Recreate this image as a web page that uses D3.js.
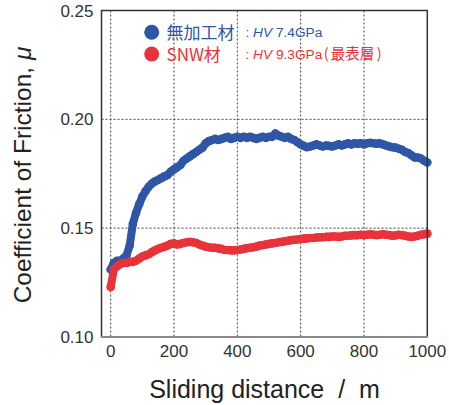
<!DOCTYPE html>
<html><head><meta charset="utf-8">
<script src="https://cdn.jsdelivr.net/npm/d3@7"></script>
<style>
html,body{margin:0;padding:0;background:#fff;}
svg{display:block;font-family:"Liberation Sans",Arial,sans-serif;}
</style></head>
<body><svg id="c" width="449" height="405"></svg>
<script>
const distances = d3.range(0, 1001, 10);
const blueValues = [0.131,0.134,0.135,0.135,0.136,0.1375,0.142,0.152,0.157,0.161,
0.1645,0.167,0.1690,0.1705,0.1715,0.1722,0.173,0.1738,0.1745,0.176,
0.177,0.178,0.179,0.181,0.182,0.183,0.184,0.185,0.186,0.187,
0.189,0.190,0.1905,0.191,0.1905,0.191,0.1915,0.192,0.191,0.1915,
0.192,0.1915,0.192,0.1915,0.192,0.1915,0.191,0.1915,0.192,0.1915,
0.192,0.192,0.1935,0.1925,0.192,0.1915,0.192,0.191,0.1905,0.1895,
0.1885,0.1878,0.1872,0.1875,0.188,0.1885,0.188,0.1875,0.188,0.1878,
0.1875,0.188,0.1885,0.188,0.1885,0.189,0.1885,0.189,0.1888,0.189,
0.1885,0.189,0.1892,0.189,0.1888,0.189,0.1885,0.188,0.1875,0.1872,
0.187,0.1865,0.186,0.185,0.1845,0.1835,0.1825,0.1825,0.182,0.181,0.1802];
const redValues = [0.123,0.131,0.1325,0.1335,0.134,0.134,0.1345,0.1345,0.135,0.136,
0.137,0.1375,0.138,0.139,0.1398,0.1405,0.141,0.1415,0.142,0.1428,
0.143,0.1425,0.1428,0.1432,0.1435,0.1437,0.1435,0.1432,0.1425,0.142,
0.1415,0.1412,0.141,0.141,0.1407,0.1405,0.140,0.140,0.1398,0.1398,
0.140,0.1402,0.1405,0.1408,0.141,0.1412,0.1415,0.142,0.1422,0.1425,
0.1428,0.143,0.1432,0.1435,0.1437,0.144,0.1442,0.1445,0.1447,0.1448,
0.145,0.1452,0.1453,0.1455,0.1455,0.1457,0.1458,0.1458,0.146,0.146,
0.1462,0.1462,0.146,0.1462,0.1465,0.1465,0.1467,0.1468,0.1468,0.147,
0.1468,0.147,0.1472,0.147,0.1468,0.147,0.1472,0.147,0.1468,0.1465,
0.1467,0.147,0.1468,0.1465,0.1462,0.146,0.1462,0.1465,0.147,0.1472,0.1475];
const xTicks = [0,200,400,600,800,1000];
const yTicks = [0.10,0.15,0.20,0.25];
const xGrid = [0,200,400,600,800];
const yGrid = [0.15,0.20];
const seriesNames = ["無加工材","SNW材"];
const seriesNotes = ["7.4GPa","9.3GPa"];

const BLUE="#2f56a6", RED="#e8333b";
const svg = d3.select("#c");
const L=101.5, R=427.3, T=10.5, B=337;
const x = d3.scaleLinear().domain([-29,1000]).range([L,R]);
const y = d3.scaleLinear().domain([0.10,0.25]).range([B,T]);

// grid
svg.append("g").selectAll("line").data(xGrid).join("line")
  .attr("x1",d=>x(d)).attr("x2",d=>x(d)).attr("y1",T).attr("y2",B)
  .attr("stroke","#444").attr("stroke-width",1).attr("stroke-dasharray","2,2");
svg.append("g").selectAll("line").data(yGrid).join("line")
  .attr("x1",L).attr("x2",R).attr("y1",d=>y(d)).attr("y2",d=>y(d))
  .attr("stroke","#444").attr("stroke-width",1).attr("stroke-dasharray","2,2");

function drawSeries(vals,color){
  const pts = distances.map((d,i)=>[d,vals[i]]);
  const line = d3.line().x(p=>x(p[0])).y(p=>y(p[1])).curve(d3.curveLinear);
  svg.append("path").datum(pts).attr("d",line).attr("fill","none")
    .attr("stroke",color).attr("stroke-width",8).attr("stroke-linejoin","round").attr("stroke-linecap","round");
  svg.append("g").selectAll("circle").data(pts).join("circle")
    .attr("cx",p=>x(p[0])).attr("cy",p=>y(p[1])).attr("r",4.3).attr("fill",color);
}
drawSeries(blueValues,BLUE);
drawSeries(redValues,RED);

// frame
svg.append("path").attr("d",`M${L},${B}V${T}H${R}V${B}`).attr("fill","none")
  .attr("stroke","#333").attr("stroke-width",1.5);
svg.append("line").attr("x1",L-0.5).attr("x2",R+0.5).attr("y1",B).attr("y2",B)
  .attr("stroke","#8a8a8a").attr("stroke-width",2.2);

// tick labels
svg.append("g").selectAll("text").data(yTicks).join("text")
  .attr("x",93.5).attr("y",d=>y(d)+6).attr("text-anchor","end")
  .attr("font-size",17).attr("fill","#333").text(d=>d.toFixed(2));
svg.append("g").selectAll("text").data(xTicks).join("text")
  .attr("x",d=>x(d)).attr("y",357).attr("text-anchor","middle")
  .attr("font-size",17).attr("fill","#333").text(d=>d);

// axis titles
svg.append("text").attr("x",264.5).attr("y",398).attr("text-anchor","middle")
  .attr("font-size",25).attr("fill","#222").style("white-space","pre")
  .text("Sliding distance  /  m");
const yt = svg.append("text").attr("transform","translate(30.5,175) rotate(-90)").attr("text-anchor","middle")
  .attr("font-size",24.5).attr("fill","#222");
yt.append("tspan").text("Coefficient of Friction, ");
yt.append("tspan").attr("font-style","italic").text("μ");

// legend
const leg = [{c:BLUE,y:32.3,name:seriesNames[0],note:seriesNotes[0],extra:null},
             {c:RED,y:54,name:seriesNames[1],note:seriesNotes[1],extra:"最表層"}];
leg.forEach(l=>{
  svg.append("circle").attr("cx",151.7).attr("cy",l.y).attr("r",7.5).attr("fill",l.c);
  svg.append("text").attr("x",166.5).attr("y",l.y+6.5).attr("font-size",17).attr("fill",l.c)
    .style("font-family","'Noto Sans CJK JP','Liberation Sans',sans-serif").text(l.name);
  const t = svg.append("text").attr("x",245.5).attr("y",l.y+5).attr("font-size",13.7).attr("fill",l.c);
  t.append("tspan").text(": ");
  t.append("tspan").attr("font-style","italic").text("HV");
  t.append("tspan").text(" "+l.note);
  if(l.extra){
    const f="'Noto Sans CJK JP',sans-serif";
    t.append("tspan").attr("dx",1.5).style("font-family",f).attr("font-size",14.5).text("(");
    t.append("tspan").attr("dx",2).style("font-family",f).attr("font-size",14.5).text(l.extra);
    t.append("tspan").attr("dx",2.5).style("font-family",f).attr("font-size",14.5).text(")");
  }
});
</script></body></html>
